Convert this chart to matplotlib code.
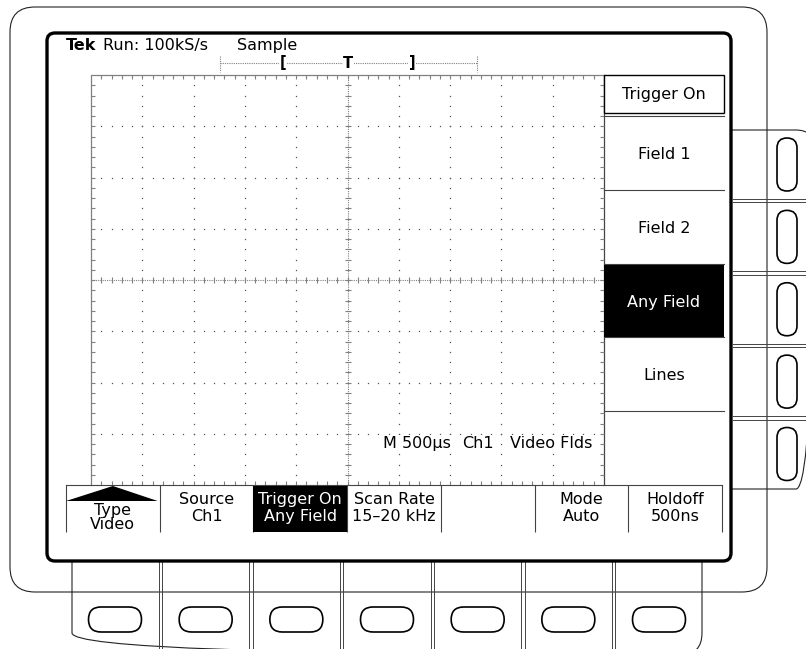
import numpy as np
import matplotlib
matplotlib.use("Agg")
import matplotlib.pyplot as plt
from matplotlib.patches import FancyBboxPatch, Rectangle, Polygon

plt.rcParams['font.family'] = ['DejaVu Sans']

# screen texts
status_brand = "Tek"
status_rate = "Run: 100kS/s"
status_mode = "Sample"
side_title = "Trigger On"
side_labels = ["Field 1", "Field 2", "Any Field", "Lines", ""]
side_selected = 2
bottom_line1 = ["Type", "Source", "Trigger On", "Scan Rate", "", "Mode", "Holdoff"]
bottom_line2 = ["Video", "Ch1", "Any Field", "15\u201320 kHz", "", "Auto", "500ns"]
bottom_selected = 2
readout = ["M 500\u00b5s", "Ch1", "Video Flds"]

# graticule: 10 x 8 divisions, 5 minor ticks per division
n_div_x, n_div_y, n_minor = 10, 8, 5

# layout (pixels, origin top-left)
W, H = 806, 649
gx0, gy0, gx1, gy1 = 91, 75, 604, 485
menu_x1 = 724
menu_bottom = 532
bottom_x0, bottom_x1 = 66, 722
GRAY = "#808080"
FS = 11.5

fig = plt.figure(figsize=(W / 100, H / 100), dpi=100)
ax = fig.add_axes([0, 0, 1, 1])
ax.set_xlim(0, W)
ax.set_ylim(H, 0)
ax.axis("off")


def rrect(x0, y0, x1, y1, r, **kw):
    p = FancyBboxPatch((x0, y0), x1 - x0, y1 - y0,
                       boxstyle=f"round,pad=0,rounding_size={r}", **kw)
    ax.add_patch(p)
    return p


thin = dict(lw=0.8, ec="#222", fc="none")

# ---- bezel ----
rrect(10, 7, 767, 592, 25, zorder=1, **thin)
# side button panel
rrect(700, 130, 814, 489, 18, zorder=1, **thin)
side_centers = np.linspace(164.5, 454, 5)
for yc in (side_centers[:-1] + side_centers[1:]) / 2:
    for d in (-1.8, 1.8):
        ax.plot([733, W], [yc + d, yc + d], color="#444", lw=0.7, zorder=1)
for yc in side_centers:
    rrect(777, yc - 26.5, 797, yc + 26.5, 10, zorder=1, lw=1.2, ec="black", fc="none")
# bottom button panel
rrect(72, 520, 702, 655, 22, zorder=1, **thin)
bot_centers = np.linspace(115, 659, 7)
for xc in (bot_centers[:-1] + bot_centers[1:]) / 2:
    for d in (-1.8, 1.8):
        ax.plot([xc + d, xc + d], [560, H], color="#444", lw=0.7, zorder=1)
for xc in bot_centers:
    rrect(xc - 26.5, 607, xc + 26.5, 632, 12.5, zorder=1, lw=1.2, ec="black", fc="none")

# ---- screen ----
rrect(47, 33, 731, 561, 8, zorder=2, lw=2.4, ec="black", fc="white")

# ---- graticule ----
mx = np.linspace(gx0, gx1, n_div_x * n_minor + 1)
my = np.linspace(gy0, gy1, n_div_y * n_minor + 1)
Mx = np.linspace(gx0, gx1, n_div_x + 1)
My = np.linspace(gy0, gy1, n_div_y + 1)
cx, cy = Mx[n_div_x // 2], My[n_div_y // 2]

# inner dotted grid lines
vx = [x for x in Mx[1:-1] if x != cx]
hy = [y for y in My[1:-1] if y != cy]
X1, Y1 = np.meshgrid(vx, my[1:-1])
X2, Y2 = np.meshgrid(mx[1:-1], hy)
ax.plot(np.r_[X1.ravel(), X2.ravel()], np.r_[Y1.ravel(), Y2.ravel()],
        ls="none", marker="s", ms=0.9, mew=0, color="#555", zorder=3)

# frame
ax.plot([gx0, gx0, gx1], [gy1, gy0, gy0], color=GRAY, lw=0.9, zorder=3)
ax.plot([gx1, gx1], [gy0, gy1], color="#444", lw=0.9, zorder=3)
ax.vlines(mx[1:-1], gy0, gy0 + 4, color=GRAY, lw=0.8, zorder=3)
ax.vlines(mx[1:-1], gy1 - 4, gy1, color=GRAY, lw=0.8, zorder=3)
ax.hlines(my[1:-1], gx0, gx0 + 4, color=GRAY, lw=0.8, zorder=3)
ax.hlines(my[1:-1], gx1 - 4, gx1, color=GRAY, lw=0.8, zorder=3)

# centre cross
ax.plot([cx, cx], [gy0, gy1], color=GRAY, lw=0.8, ls=(0, (1, 1)), zorder=3)
ax.plot([gx0, gx1], [cy, cy], color=GRAY, lw=0.8, ls=(0, (1, 1)), zorder=3)
ax.hlines(my[1:-1], cx - 3, cx + 3, color=GRAY, lw=0.8, zorder=3)
ax.vlines(mx[1:-1], cy - 3, cy + 3, color=GRAY, lw=0.8, zorder=3)

# ---- status line and record bar ----
ax.text(66, 50, status_brand, fontsize=FS, fontweight="bold", zorder=4)
ax.text(103, 50, status_rate, fontsize=FS, zorder=4)
ax.text(237, 50, status_mode, fontsize=FS, zorder=4)
ax.plot([220, 477], [63, 63], color=GRAY, lw=0.8, ls=(0, (1, 1)), zorder=3)
ax.vlines([220, 477], 56, 72, color=GRAY, lw=0.8, ls=(0, (1, 1)), zorder=3)
for x, s in zip([283, 348, 412], ["[", "T", "]"]):
    ax.text(x, 63, s, fontsize=10.5, fontweight="bold", ha="center", va="center",
            zorder=4, bbox=dict(fc="white", ec="none", pad=0.3))

# readout
for x, s in zip([383, 462, 510], readout):
    ax.text(x, 448, s, fontsize=FS, zorder=4,
            bbox=dict(fc="white", ec="none", pad=0.5))

# ---- side menu ----
ax.add_patch(Rectangle((gx1, gy0), menu_x1 - gx1, 38, fc="white", ec="black", lw=1.0, zorder=4))
ax.text((gx1 + menu_x1) / 2, gy0 + 24, side_title, fontsize=FS, ha="center", zorder=5)
tops = np.linspace(116, gy1, len(side_labels) + 1)
ax.plot([gx1, menu_x1], [tops[0], tops[0]], color="#444", lw=0.8, zorder=4)
for i, lab in enumerate(side_labels):
    t, b = tops[i], tops[i + 1]
    sel = i == side_selected
    if sel:
        ax.add_patch(Rectangle((gx1, t), menu_x1 - gx1, b - t, fc="black", ec="none", zorder=4))
    if i > 0:
        ax.plot([gx1, menu_x1], [t, t], color="#444", lw=0.8, zorder=4)
    ax.text((gx1 + menu_x1) / 2, (t + b) / 2 + 6, lab, fontsize=FS, ha="center",
            color="white" if sel else "black", zorder=5)

# ---- bottom menu ----
edges = np.linspace(bottom_x0, bottom_x1, len(bottom_line1) + 1)
ax.plot([bottom_x0, bottom_x1], [gy1, gy1], color="#444", lw=0.8, zorder=4)
ax.vlines(edges, gy1, menu_bottom, color="#444", lw=0.8, zorder=4)
for i, (l1, l2) in enumerate(zip(bottom_line1, bottom_line2)):
    x0, x1 = edges[i], edges[i + 1]
    xc = (x0 + x1) / 2
    sel = i == bottom_selected
    col = "white" if sel else "black"
    if sel:
        ax.add_patch(Rectangle((x0, gy1 + 1), x1 - x0, menu_bottom - gy1 - 1,
                               fc="black", ec="none", zorder=4))
    if i == 0:
        ax.add_patch(Polygon([[x0, 501], [x1 - 2, 501], [(x0 + x1) / 2, gy1 + 1]],
                             closed=True, fc="black", ec="none", zorder=4))
        ax.text(xc, 515, l1, fontsize=FS, ha="center", color=col, zorder=5)
        ax.text(xc, 529, l2, fontsize=FS, ha="center", color=col, zorder=5)
    else:
        ax.text(xc, 504, l1, fontsize=FS, ha="center", color=col, zorder=5)
        ax.text(xc, 521, l2, fontsize=FS, ha="center", color=col, zorder=5)

fig.savefig("out.png", dpi=100)
